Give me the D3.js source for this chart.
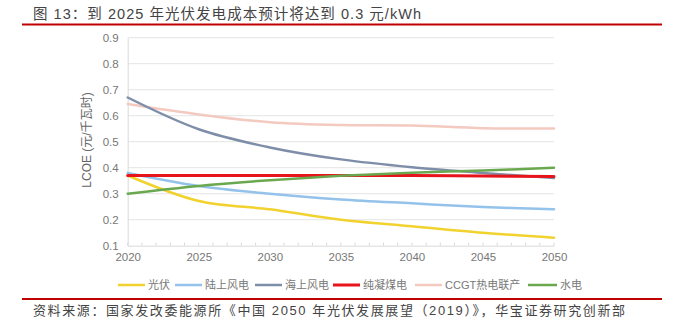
<!DOCTYPE html>
<html>
<head>
<meta charset="utf-8">
<script src="https://cdn.jsdelivr.net/npm/d3@7"></script>
<style>
  body { margin: 0; background: #fff; }
  svg text { font-family: "Liberation Sans", "Noto Sans CJK SC", sans-serif; }
</style>
</head>
<body>
<div id="chart"></div>
<script>
const years = [2020, 2025, 2030, 2035, 2040, 2045, 2050];
const yTicks = [0.1, 0.2, 0.3, 0.4, 0.5, 0.6, 0.7, 0.8, 0.9];

// LCOE values (元/千瓦时)
const pv        = [0.37, 0.272, 0.240, 0.200, 0.175, 0.150, 0.131];
const onshore   = [0.38, 0.33, 0.300, 0.278, 0.263, 0.249, 0.240];
const offshore  = [0.67, 0.548, 0.478, 0.432, 0.402, 0.380, 0.360];
const coal      = [0.37, 0.37, 0.37, 0.37, 0.37, 0.368, 0.366];
const ccgt      = [0.645, 0.605, 0.575, 0.564, 0.562, 0.552, 0.551];
const hydro     = [0.30, 0.33, 0.352, 0.369, 0.381, 0.389, 0.40];

const seriesNames = ["光伏", "陆上风电", "海上风电", "纯凝煤电", "CCGT热电联产", "水电"];
const seriesColors = ["#f2d22e", "#93c2ea", "#7f8ea8", "#e8141c", "#f3c9c0", "#6aa84f"];
const seriesValues = [pv, onshore, offshore, coal, ccgt, hydro];

const width = 678, height = 330;
const svg = d3.select("#chart").append("svg").attr("width", width).attr("height", height);

// title + red rules
svg.append("text").attr("x", 33).attr("y", 19)
  .attr("font-size", 14.5).attr("fill", "#444")
  .attr("textLength", 388).attr("lengthAdjust", "spacing")
  .text("图 13：到 2025 年光伏发电成本预计将达到 0.3 元/kWh");
svg.append("line").attr("x1", 22).attr("x2", 662).attr("y1", 24.5).attr("y2", 24.5)
  .attr("stroke", "#c00000").attr("stroke-width", 2);
svg.append("line").attr("x1", 22).attr("x2", 662).attr("y1", 299).attr("y2", 299)
  .attr("stroke", "#c00000").attr("stroke-width", 2);
svg.append("text").attr("x", 33).attr("y", 315)
  .attr("font-size", 13).attr("fill", "#444")
  .attr("textLength", 592).attr("lengthAdjust", "spacing")
  .text("资料来源：国家发改委能源所《中国 2050 年光伏发展展望（2019）》，华宝证券研究创新部");

const x = d3.scaleLinear().domain([2020, 2050]).range([127.7, 554]);
const y = d3.scaleLinear().domain([0.1, 0.9]).range([245.7, 37.7]);

// gridlines
svg.append("g").selectAll("line").data(yTicks.slice(1)).join("line")
  .attr("x1", x(2020)).attr("x2", x(2050))
  .attr("y1", d => y(d)).attr("y2", d => y(d))
  .attr("stroke", "#e4e4e4").attr("stroke-width", 1);

// y axis
const yAxis = svg.append("g").attr("transform", `translate(${x(2020)},0)`)
  .call(d3.axisLeft(y).tickValues(yTicks).tickFormat(d3.format(".1f")).tickSize(0).tickPadding(9));
yAxis.select(".domain").attr("stroke", "#d9d9d9");
yAxis.selectAll("text").attr("font-size", 11.5).attr("fill", "#777");

// x axis with yearly minor ticks
const xAxis = svg.append("g").attr("transform", `translate(0,${y(0.1)})`)
  .call(d3.axisBottom(x).tickValues(years).tickFormat(d3.format("d")).tickSize(0).tickPadding(7));
xAxis.select(".domain").attr("stroke", "#d9d9d9");
xAxis.selectAll("text").attr("font-size", 11.5).attr("fill", "#777");
svg.append("g").selectAll("line").data(d3.range(2020, 2051)).join("line")
  .attr("x1", d => x(d)).attr("x2", d => x(d))
  .attr("y1", y(0.1)).attr("y2", y(0.1) - 3)
  .attr("stroke", "#d9d9d9");

// axis title
svg.append("text")
  .attr("transform", `translate(91,140) rotate(-90)`)
  .attr("text-anchor", "middle").attr("font-size", 12).attr("fill", "#666")
  .text("LCOE (元/千瓦时)");

// lines
const line = d3.line().x((d, i) => x(years[i])).y(d => y(d)).curve(d3.curveCatmullRom.alpha(0.5));
const drawOrder = [4, 2, 1, 0, 3, 5];
svg.append("g").selectAll("path").data(drawOrder).join("path")
  .attr("d", i => line(seriesValues[i]))
  .attr("fill", "none")
  .attr("stroke", i => seriesColors[i])
  .attr("stroke-width", i => i === 3 ? 3 : 2.5)
  .attr("stroke-linecap", "round");

// legend
const legendX = [118, 175, 255, 333, 415, 528];
const legend = svg.append("g").selectAll("g").data(seriesNames).join("g")
  .attr("transform", (d, i) => `translate(${legendX[i]},285)`);
legend.append("line").attr("x1", 0).attr("x2", (d, i) => i === 5 ? 29 : 27)
  .attr("stroke", (d, i) => seriesColors[i]).attr("stroke-width", (d, i) => i === 3 ? 3 : 2.5);
legend.append("text").attr("x", (d, i) => (i === 5 ? 29 : 27) + 3).attr("y", 4)
  .attr("font-size", 11).attr("fill", "#777").text(d => d);
</script>
</body>
</html>
